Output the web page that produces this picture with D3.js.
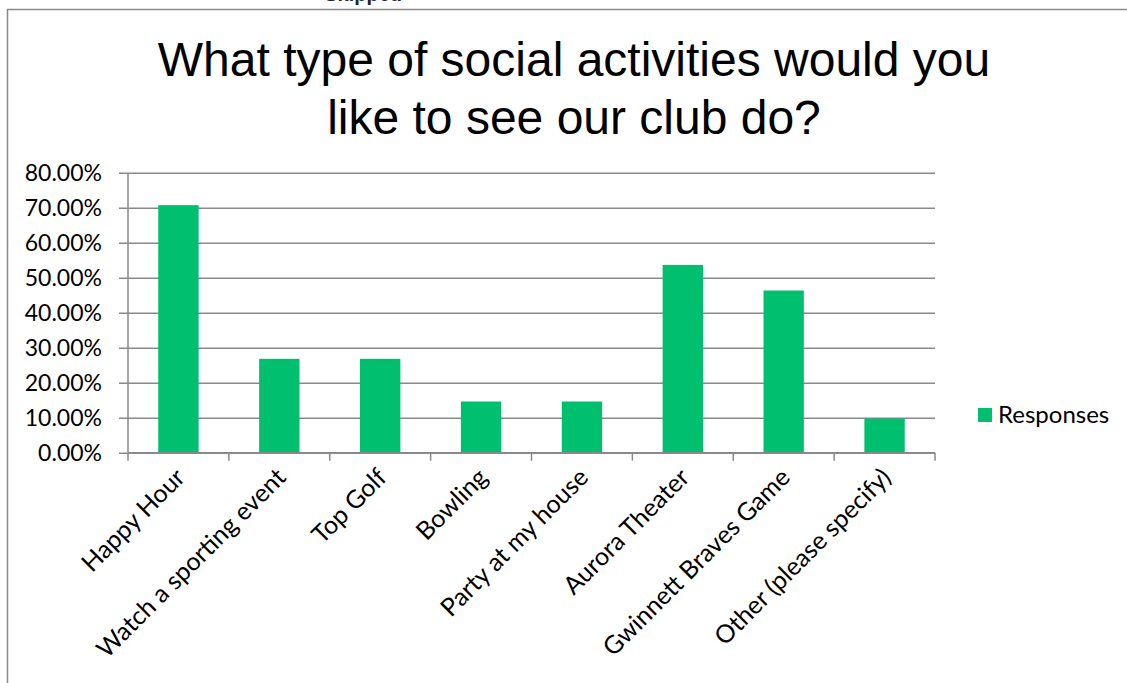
<!DOCTYPE html>
<html>
<head>
<meta charset="utf-8">
<script src="https://cdn.jsdelivr.net/npm/d3@7"></script>
<style>
  html, body { margin: 0; padding: 0; background: #fff; }
  svg { display: block; }
</style>
</head>
<body>
<svg id="chart" width="1127" height="683"></svg>
<script>
const categories = ["Happy Hour", "Watch a sporting event", "Top Golf", "Bowling",
  "Party at my house", "Aurora Theater", "Gwinnett Braves Game", "Other (please specify)"];
const responses = [0.7073, 0.2683, 0.2683, 0.1463, 0.1463, 0.5366, 0.4634, 0.0976];
const yTicks = [0, 0.1, 0.2, 0.3, 0.4, 0.5, 0.6, 0.7, 0.8];
const titleLines = ["What type of social activities would you", "like to see our club do?"];
const seriesName = "Responses";

const svg = d3.select("#chart");
const barColor = "#00BF6F";
const gridColor = "#898989";
const labelFont = "Lato, 'Noto Sans', sans-serif";

// partially visible header text above the frame (cut off in the reference too)
svg.append("text").attr("x", 402).attr("y", 1).attr("text-anchor", "end")
  .attr("font-family", "'Liberation Sans', Arial, sans-serif").attr("font-weight", "bold")
  .attr("font-size", 20).attr("fill", "#222").text("Skipped");

// frame
svg.append("path").attr("d", "M7.5,690 L7.5,9.5 L1130,9.5")
  .attr("fill", "none").attr("stroke", gridColor).attr("stroke-width", 1.5);

// title
svg.append("g").selectAll("text").data(titleLines).join("text")
  .attr("x", 574).attr("y", (d, i) => 76 + i * 58)
  .attr("text-anchor", "middle")
  .attr("font-family", "'Liberation Sans', Arial, sans-serif")
  .attr("font-size", 48).attr("fill", "#000").text(d => d);

const x = d3.scaleBand().domain(categories).range([128, 935]).paddingInner(0.6).paddingOuter(0.3);
const y = d3.scaleLinear().domain([0, 0.8]).range([452.7, 172.7]);

// gridlines + y axis ticks
const yAxis = d3.axisLeft(y).tickValues(yTicks).tickFormat(d3.format(".2%"))
  .tickSize(-(935 - 119)).tickPadding(17);
const gy = svg.append("g").attr("transform", "translate(119,0)").call(yAxis);
gy.select(".domain").remove();
gy.selectAll(".tick line").attr("stroke", gridColor).attr("stroke-width", 1.5);
gy.selectAll(".tick text").attr("font-family", labelFont).attr("font-size", 23).attr("fill", "#000");

// y axis line
svg.append("line").attr("x1", 128).attr("x2", 128).attr("y1", y(0.8)).attr("y2", y(0))
  .attr("stroke", gridColor).attr("stroke-width", 1.5);

// bars
svg.append("g").selectAll("rect").data(categories).join("rect")
  .attr("x", d => x(d)).attr("width", x.bandwidth())
  .attr("y", (d, i) => y(responses[i])).attr("height", (d, i) => y(0) - y(responses[i]))
  .attr("fill", barColor);

// x axis line + ticks at category boundaries
const step = x.step();
const x0 = 128;
svg.append("line").attr("x1", x0).attr("x2", 935).attr("y1", y(0)).attr("y2", y(0))
  .attr("stroke", gridColor).attr("stroke-width", 1.5);
svg.append("g").selectAll("line").data(d3.range(categories.length + 1)).join("line")
  .attr("x1", i => x0 + i * step).attr("x2", i => x0 + i * step)
  .attr("y1", y(0)).attr("y2", y(0) + 8)
  .attr("stroke", gridColor).attr("stroke-width", 1.5);

// category labels rotated
svg.append("g").selectAll("text").data(categories).join("text")
  .attr("transform", d => `translate(${x(d) + x.bandwidth() / 2 + 8},${479}) rotate(-45)`)
  .attr("text-anchor", "end")
  .attr("font-family", labelFont).attr("font-size", 25).attr("fill", "#000")
  .text(d => d);

// legend
svg.append("rect").attr("x", 978).attr("y", 408).attr("width", 14).attr("height", 14).attr("fill", barColor);
svg.append("text").attr("x", 998).attr("y", 423)
  .attr("font-family", labelFont).attr("font-size", 24).attr("fill", "#000").text(seriesName);
</script>
</body>
</html>
